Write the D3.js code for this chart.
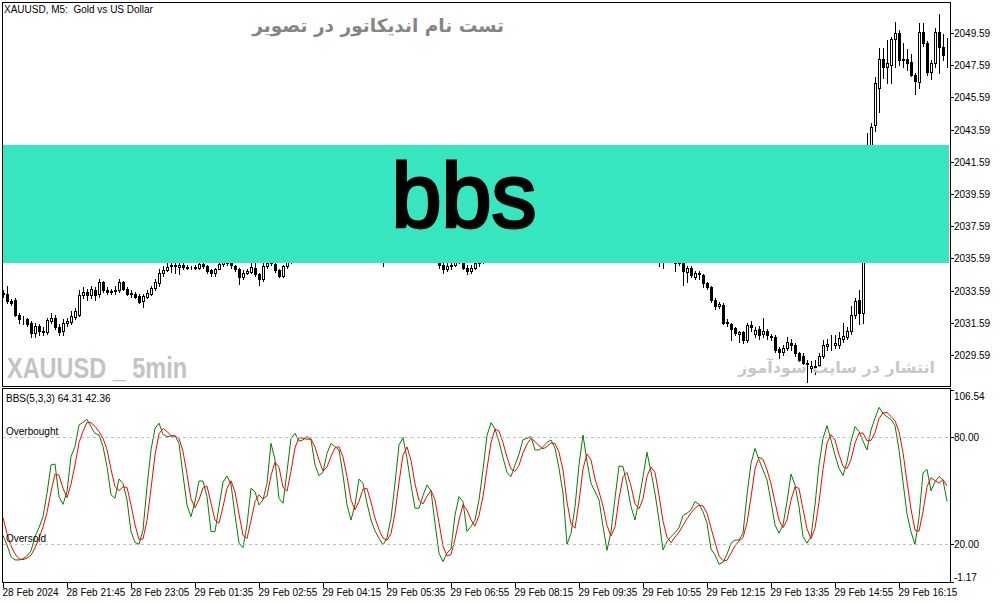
<!DOCTYPE html>
<html><head><meta charset="utf-8">
<script src="https://cdn.jsdelivr.net/npm/d3@7/dist/d3.min.js"></script>
<style>html,body{margin:0;padding:0;background:#fff;overflow:hidden}svg{display:block}</style>
</head><body><svg id="c" width="1003" height="603"></svg>
<script>
// ---------- DATA (XAUUSD M5) ----------
const opens=[2033.45,2033.35,2032.95,2033.0,2032.1,2031.85,2031.8,2031.55,2030.95,2031.4,
2031.05,2031.0,2031.7,2031.9,2031.35,2031.05,2031.6,2031.65,2031.95,2032.1,
2033.3,2033.5,2033.3,2033.6,2033.4,2034.1,2033.6,2033.5,2033.55,2033.6,
2034.1,2033.7,2033.45,2033.4,2033.25,2032.95,2033.2,2033.4,2033.75,2034.05,
2034.7,2034.85,2035.1,2035.2,2035.05,2035.2,2035.05,2035.0,2035.0,2035.0,
2035.25,2035.1,2034.85,2034.65,2034.95,2035.25,2035.35,2035.3,2035.1,2034.9,
2034.4,2034.7,2034.75,2035.0,2034.6,2034.3,2035.1,2035.3,2035.25,2034.85,
2034.5,2035.1,2035.4,2035.6,2035.9,2036.2,2036.4,2036.6,2036.5,2036.1,
2036.0,2036.3,2036.7,2036.9,2036.8,2036.7,2036.3,2035.9,2035.8,2036.0,
2036.3,2036.2,2035.9,2035.7,2035.7,2035.6,2035.7,2035.9,2036.1,2036.5,
2036.9,2037.0,2036.7,2036.3,2036.0,2036.0,2036.2,2036.3,2036.0,2035.5,
2035.2,2034.9,2035.1,2035.2,2035.6,2035.4,2035.0,2034.8,2035.0,2035.3,
2035.6,2036.1,2036.5,2036.8,2036.6,2036.4,2036.1,2036.0,2036.2,2036.4,
2036.6,2036.8,2036.9,2036.8,2036.6,2036.7,2036.8,2036.9,2036.9,2036.7,
2036.3,2036.0,2035.7,2035.9,2036.2,2036.6,2036.8,2036.4,2036.3,2036.2,
2036.0,2035.8,2035.7,2035.9,2036.2,2036.4,2036.2,2036.0,2035.8,2035.9,
2036.2,2036.5,2036.4,2036.1,2035.7,2035.5,2035.6,2035.8,2035.55,2035.3,
2035.4,2034.75,2035.0,2034.4,2034.7,2034.55,2034.05,2033.8,2033.0,2032.65,
2032.7,2031.6,2031.5,2031.25,2030.9,2031.0,2030.5,2031.45,2030.9,2031.2,
2030.9,2031.1,2030.75,2030.7,2029.95,2029.75,2030.0,2030.35,2030.2,2029.7,
2029.55,2029.1,2028.75,2028.9,2028.95,2029.5,2030.15,2030.2,2030.2,2030.2,
2030.55,2030.7,2031.1,2032.1,2033.0,2032.2,2038.5,2042.3,2043.9,2046.2,
2048.0,2047.5,2047.6,2049.2,2049.6,2047.9,2047.95,2047.8,2047.0,2046.55,
2049.65,2048.95,2047.15,2047.7,2049.65,2048.7,2048.2];
const highs=[2033.6,2033.85,2033.05,2033.1,2032.2,2032.0,2031.9,2031.7,2031.6,2031.5,
2031.3,2031.9,2032.2,2032.1,2031.5,2031.8,2031.9,2032.3,2032.5,2033.6,
2033.8,2033.7,2033.9,2033.8,2034.3,2034.2,2033.8,2033.7,2033.9,2034.3,
2034.2,2033.8,2033.6,2033.5,2033.4,2033.4,2033.6,2033.9,2034.3,2034.9,
2035.1,2035.3,2035.6,2035.5,2035.4,2035.4,2035.2,2035.1,2035.2,2035.5,
2035.4,2035.2,2034.9,2035.0,2035.45,2035.6,2035.6,2035.5,2035.2,2035.0,
2034.85,2034.95,2035.3,2035.4,2034.7,2035.4,2035.6,2035.8,2035.4,2034.95,
2035.2,2035.7,2035.9,2036.1,2036.4,2036.6,2036.8,2036.8,2036.6,2036.3,
2036.5,2036.9,2037.1,2037.0,2036.9,2036.8,2036.4,2036.0,2036.2,2036.5,
2036.4,2036.3,2036.0,2035.8,2035.8,2035.9,2036.0,2036.2,2036.6,2037.0,
2037.2,2037.1,2036.8,2036.4,2036.2,2036.4,2036.5,2036.4,2036.1,2035.7,
2035.4,2035.3,2035.4,2035.8,2035.9,2035.6,2035.2,2035.2,2035.5,2035.9,
2036.3,2036.7,2037.0,2036.9,2036.7,2036.5,2036.3,2036.4,2036.6,2036.8,
2037.0,2037.0,2037.1,2036.9,2036.8,2037.0,2037.1,2037.1,2037.0,2036.8,
2036.4,2036.1,2036.0,2036.3,2036.7,2036.9,2036.9,2036.5,2036.4,2036.3,
2036.1,2035.9,2036.0,2036.3,2036.5,2036.5,2036.3,2036.1,2036.0,2036.3,
2036.6,2036.7,2036.5,2036.2,2036.0,2035.9,2036.0,2035.9,2035.8,2035.6,
2035.5,2035.1,2035.1,2034.8,2034.8,2034.6,2034.1,2033.9,2033.1,2032.9,
2032.8,2031.8,2031.6,2031.3,2031.1,2031.1,2031.6,2031.7,2031.3,2031.4,
2031.9,2031.2,2030.9,2030.8,2030.1,2030.2,2030.7,2030.6,2030.3,2029.8,
2029.7,2029.3,2029.2,2029.3,2029.7,2030.5,2030.6,2030.8,2030.8,2031.0,
2031.6,2031.3,2032.6,2033.1,2033.6,2039.0,2043.4,2044.0,2046.85,2048.65,
2048.65,2049.15,2049.35,2050.25,2049.8,2048.95,2048.6,2048.3,2047.1,2050.2,
2050.2,2049.1,2047.9,2049.9,2050.75,2049.5,2049.3];
const lows=[2033.2,2032.8,2032.7,2032.0,2031.6,2031.5,2031.4,2030.7,2030.7,2030.8,
2030.8,2030.9,2031.6,2031.2,2030.8,2030.8,2031.4,2031.5,2031.8,2032.0,
2033.1,2033.0,2033.1,2033.0,2033.2,2033.5,2033.4,2033.4,2033.4,2033.5,
2033.6,2033.3,2033.2,2033.1,2032.8,2032.55,2033.1,2033.3,2033.6,2033.9,
2034.5,2034.8,2034.75,2034.7,2034.6,2034.95,2034.9,2034.9,2034.9,2034.9,
2035.0,2034.7,2034.5,2034.5,2034.9,2035.1,2035.15,2035.0,2034.8,2034.0,
2034.3,2034.6,2034.7,2034.5,2033.95,2034.2,2035.0,2035.2,2034.75,2034.4,
2034.4,2035.0,2035.3,2035.5,2035.8,2036.0,2036.3,2036.3,2036.0,2035.9,
2035.9,2036.2,2036.6,2036.6,2036.5,2036.2,2035.8,2035.6,2035.7,2035.9,
2036.0,2035.8,2035.6,2035.6,2035.4,2035.1,2035.6,2035.8,2036.0,2036.4,
2036.8,2036.6,2036.2,2035.9,2035.8,2035.9,2036.1,2035.9,2035.4,2035.0,
2034.7,2034.8,2034.9,2035.1,2035.3,2034.9,2034.6,2034.7,2034.9,2035.1,
2035.3,2035.9,2036.4,2036.5,2036.2,2036.0,2035.9,2035.9,2036.1,2036.3,
2036.5,2036.6,2036.6,2036.4,2036.5,2036.6,2036.7,2036.7,2036.6,2036.2,
2035.9,2035.6,2035.6,2035.8,2036.1,2036.5,2036.3,2036.1,2036.0,2035.9,
2035.7,2035.6,2035.6,2035.8,2036.1,2036.1,2035.9,2035.7,2035.7,2035.8,
2036.1,2036.3,2036.0,2035.6,2035.1,2035.0,2035.5,2035.4,2034.8,2035.2,
2033.95,2034.1,2034.4,2034.3,2034.3,2033.8,2033.7,2032.9,2032.45,2032.5,
2031.5,2031.4,2030.5,2030.8,2030.4,2030.3,2030.4,2031.1,2030.7,2030.6,
2030.7,2030.6,2030.5,2029.8,2029.4,2029.6,2029.9,2029.9,2029.5,2029.2,
2029.0,2027.9,2028.5,2028.4,2028.9,2029.4,2029.9,2029.9,2030.0,2030.0,
2030.4,2030.6,2030.9,2031.9,2031.5,2031.6,2038.2,2042.0,2043.5,2044.7,
2046.8,2046.5,2046.5,2047.5,2047.6,2047.45,2047.3,2046.9,2045.8,2046.2,
2048.8,2047.0,2046.7,2047.5,2047.1,2047.9,2047.45];
const closes=[2033.35,2032.95,2032.8,2032.1,2031.85,2031.8,2031.5,2030.95,2031.4,2031.05,
2031.0,2031.75,2031.9,2031.3,2031.0,2031.6,2031.7,2032.0,2032.3,2033.3,
2033.5,2033.3,2033.7,2033.3,2034.1,2033.6,2033.5,2033.55,2033.6,2034.1,
2033.7,2033.4,2033.4,2033.2,2032.9,2033.25,2033.45,2033.75,2034.1,2034.7,
2034.85,2035.05,2035.2,2035.1,2035.2,2035.05,2035.0,2035.0,2035.05,2035.25,
2035.1,2034.8,2034.65,2034.95,2035.25,2035.35,2035.3,2035.2,2034.9,2034.4,
2034.7,2034.8,2035.05,2034.6,2034.3,2035.1,2035.3,2035.35,2034.85,2034.5,
2035.1,2035.4,2035.6,2035.9,2036.2,2036.4,2036.6,2036.5,2036.1,2036.0,
2036.3,2036.7,2036.9,2036.8,2036.7,2036.3,2035.9,2035.8,2036.0,2036.3,
2036.2,2035.9,2035.7,2035.7,2035.6,2035.7,2035.9,2036.1,2036.5,2036.9,
2037.0,2036.7,2036.3,2036.0,2036.0,2036.2,2036.3,2036.0,2035.5,2035.2,
2034.9,2035.1,2035.2,2035.6,2035.4,2035.0,2034.8,2035.0,2035.3,2035.6,
2036.1,2036.5,2036.8,2036.6,2036.4,2036.1,2036.0,2036.2,2036.4,2036.6,
2036.8,2036.9,2036.8,2036.6,2036.7,2036.8,2036.9,2036.9,2036.7,2036.3,
2036.0,2035.7,2035.9,2036.2,2036.6,2036.8,2036.4,2036.3,2036.2,2036.0,
2035.8,2035.7,2035.9,2036.2,2036.4,2036.2,2036.0,2035.8,2035.9,2036.2,
2036.5,2036.4,2036.1,2035.7,2035.5,2035.6,2035.8,2035.55,2035.3,2035.45,
2034.8,2035.0,2034.55,2034.7,2034.6,2034.05,2033.8,2033.0,2032.6,2032.75,
2031.6,2031.65,2031.2,2030.95,2031.0,2030.5,2031.45,2031.3,2031.15,2030.8,
2031.1,2030.8,2030.7,2029.9,2029.75,2030.05,2030.4,2030.2,2029.7,2029.3,
2029.1,2029.05,2028.9,2028.85,2029.55,2030.2,2030.25,2030.2,2030.3,2030.65,
2030.75,2031.05,2032.05,2032.95,2032.2,2038.5,2042.3,2043.75,2046.5,2048.0,
2047.5,2047.7,2049.2,2049.6,2047.9,2047.95,2047.7,2047.0,2046.6,2049.65,
2048.95,2047.15,2047.7,2049.65,2048.7,2048.2,2048.25];

const bbsMain=[24.9,19.6,13,11.2,11.2,11.8,13.5,16.3,24.3,29.3,
35.5,48.6,64.5,65,46.7,42.4,49.5,69.2,74.8,86.9,
88.4,90.1,86,82.2,81.3,74.8,63.6,47.7,45.8,56.6,
54.2,44.9,27.1,21.1,20,28,52.3,72.9,85,87.9,
81.7,80.4,80.7,80.9,76.6,58.9,42.1,35.5,43.9,55.5,
55.5,46.7,27.1,27.1,41.1,54.8,58.3,53.6,36.4,20.6,
18.1,30.8,51.4,49.5,42.1,44.9,54.2,76.6,67.3,45.8,
43,60.7,79.4,82.2,77.9,78.5,80.4,78.5,64.5,58.5,
60.4,71,76.6,74.8,72.9,58.9,42.1,33.6,42.1,56.6,
54.2,43,33.6,27.5,23.4,19.6,23.7,34.6,54.2,75.7,
79.8,68.2,53.3,40.2,40.2,47.3,53.3,49.9,31.8,15,
10.3,15,17.4,36.4,46.7,43.9,27.1,30,33.6,44.9,
61.7,81,88.2,84.7,77.6,68.6,60.2,58,64.5,70.5,
78.7,79.4,80.4,72.9,72.9,74.6,77.2,78.5,73.8,62.6,
48.6,20,26,41,64.5,81.3,66.4,54.2,49.5,44.9,
30,16.6,27.1,45.8,63.9,63.6,53.3,41.1,33.6,44.9,
57.9,71.6,60.7,48.6,33.6,16.8,21.5,24.3,26.5,29.3,
36.1,37.4,39.3,43.9,42.4,38.3,31.8,17.4,14,8.8,
9.9,14.4,20.6,22.4,22.4,26.2,47.7,65.4,73.8,67.3,
61.7,56.1,43.9,30.8,26.2,30.8,43.9,59.4,53.3,41.1,
24.3,20.6,24.3,42.1,64.5,79.4,86.5,78.5,70.1,62.6,
58.5,66.4,77.6,86,83.2,77.9,72.9,84.1,90.7,96.8,
93.5,91.5,90,86.5,73,55,37,27,20,35,
60,62,50,55,58,56,44];
const bbsSignal=[35,26,19.2,14.6,11.8,11.4,12.2,13.9,18.0,23.3,
29.7,37.8,49.5,59.4,58.7,51.4,46.2,53.7,64.5,77.0,
83.4,88.5,88.2,86.1,83.2,79.4,73.2,62.0,52.4,50.0,
52.2,51.9,42.1,31.0,22.7,23.0,33.4,51.1,70.1,81.9,
84.9,83.3,80.9,80.7,79.4,72.1,59.2,45.5,40.5,45.0,
51.6,52.6,43.1,33.6,31.8,41.0,51.4,55.6,49.4,36.9,
25.0,23.2,33.4,43.9,47.7,45.5,47.1,58.6,66.0,63.2,
52.0,49.8,61.0,74.1,79.8,79.5,78.9,79.1,74.5,67.2,
61.1,63.3,69.3,74.1,74.8,68.9,58.0,44.9,39.3,44.1,
51.0,51.3,43.6,34.7,28.2,23.5,22.2,26.0,37.5,54.8,
69.9,74.6,67.1,53.9,44.6,42.6,46.9,50.2,45.0,32.2,
19.0,13.4,14.2,22.9,33.5,42.3,39.2,33.7,30.2,36.2,
46.7,62.5,77.0,84.6,83.5,77.0,68.8,62.3,60.9,64.3,
71.2,76.2,79.5,77.6,75.4,73.5,74.9,76.8,76.5,71.6,
61.7,43.7,31.5,29.0,43.8,62.3,70.7,67.3,56.7,49.5,
41.5,30.5,24.6,29.8,45.6,57.8,60.3,52.7,42.7,39.9,
45.5,58.1,63.4,60.3,47.6,33.0,24.0,20.9,24.1,26.7,
30.6,34.3,37.6,40.2,41.9,41.5,37.5,29.2,21.1,13.4,
10.9,11.0,15.0,19.1,21.8,23.7,32.1,46.4,62.3,68.8,
67.6,61.7,53.9,43.6,33.6,29.3,33.6,44.7,52.2,51.3,
39.6,28.7,23.1,29.0,43.6,62.0,76.8,81.5,78.4,70.4,
63.7,62.5,67.5,76.7,82.3,82.4,78.0,78.3,82.6,90.5,
93.7,93.9,91.7,89.3,83.2,71.5,55.0,39.7,28.0,27.3,
38.3,52.3,57.3,55.7,54.3,56.3,52.7];

const timeLabels=["28 Feb 2024","28 Feb 21:45","28 Feb 23:05","29 Feb 01:35","29 Feb 02:55","29 Feb 04:15",
"29 Feb 05:35","29 Feb 06:55","29 Feb 08:15","29 Feb 09:35","29 Feb 10:55","29 Feb 12:15",
"29 Feb 13:35","29 Feb 14:55","29 Feb 16:15"];
const timeLabelBars=[0,16,32,48,64,80,96,112,128,144,160,176,192,208,224];
const priceTicks=[2029.59,2031.59,2033.59,2035.59,2037.59,2039.59,2041.59,2043.59,2045.59,2047.59,2049.59];
const oscTicks=[106.54,80.00,20.00,-1.17];
const oscLevels=[80,20];

// ---------- DRAW ----------
const svg=d3.select("#c");
svg.append("rect").attr("width",1003).attr("height",603).attr("fill","#fff");
const N=closes.length;
const x=d3.scaleLinear().domain([0,N-1]).range([3,947]);
const yP=d3.scaleLinear().domain([2027.66,2051.45]).range([386,3]);
const yO=d3.scaleLinear().domain([-1.17,106.54]).range([582,390]);
const axisFont="'Liberation Sans',Arial,sans-serif";

const defs=svg.append("defs");
defs.append("clipPath").attr("id","cm").append("rect").attr("x",3).attr("y",3).attr("width",947).attr("height",383);
defs.append("clipPath").attr("id","co").append("rect").attr("x",3).attr("y",389).attr("width",947).attr("height",193);

// candles
const gC=svg.append("g").attr("clip-path","url(#cm)").attr("shape-rendering","crispEdges");
d3.range(N).forEach(i=>{
  const X=Math.round(x(i));
  const o=opens[i],c=closes[i];
  gC.append("line").attr("x1",X+0.5).attr("x2",X+0.5)
    .attr("y1",Math.round(yP(highs[i]))).attr("y2",Math.round(yP(lows[i]))+1)
    .attr("stroke","#000").attr("stroke-width",1);
  const top=Math.round(yP(Math.max(o,c))), bot=Math.round(yP(Math.min(o,c)));
  gC.append("rect").attr("x",X-0.5).attr("y",top+0.5).attr("width",2).attr("height",Math.max(0,bot-top))
    .attr("fill",c>=o?"#fff":"#000").attr("stroke","#000").attr("stroke-width",1);
});

// banner
svg.append("rect").attr("x",3).attr("y",145).attr("width",946).attr("height",118).attr("fill","#37E6BF");
svg.append("text").attr("x",464).attr("y",227).attr("text-anchor","middle")
  .attr("font-family","'Liberation Sans',Arial,sans-serif").attr("font-size",90)
  .attr("fill","#000").attr("stroke","#000").attr("stroke-width",3).text("bbs");

// watermark texts
svg.append("text").attr("x",504).attr("y",32).attr("text-anchor","end")
  .attr("font-family","'DejaVu Sans',sans-serif").attr("font-weight","bold").attr("font-size",18.5)
  .attr("fill","#858585").text("تست نام اندیکاتور در تصویر");
svg.append("text").attr("x",7).attr("y",378)
  .attr("font-family","'Liberation Sans Narrow','Liberation Sans',Arial,sans-serif").attr("font-weight","bold").attr("font-size",30)
  .attr("textLength",180).attr("lengthAdjust","spacingAndGlyphs")
  .attr("fill","#c3c3c3").text("XAUUSD _ 5min");
svg.append("text").attr("x",935).attr("y",373).attr("text-anchor","end")
  .attr("font-family","'DejaVu Sans',sans-serif").attr("font-weight","bold").attr("font-size",16)
  .attr("fill","#c8c8c8").text("انتشار در سایت سودآموز");

// header
svg.append("text").attr("x",4).attr("y",13).attr("font-family",axisFont).attr("font-size",10)
  .attr("fill","#000").style("white-space","pre").text("XAUUSD, M5:  Gold vs US Dollar");

// oscillator
const gO=svg.append("g").attr("clip-path","url(#co)");
oscLevels.forEach(v=>{
  svg.append("line").attr("x1",3).attr("x2",950).attr("y1",Math.round(yO(v))+0.5).attr("y2",Math.round(yO(v))+0.5)
    .attr("stroke","#c0c0c0").attr("stroke-dasharray","3,3").attr("stroke-width",1);
});
const line=d3.line().x((d,i)=>x(i)).y(d=>yO(d));
gO.append("path").datum(bbsMain).attr("d",line).attr("fill","none").attr("stroke","#008000").attr("stroke-width",1);
gO.append("path").datum(bbsSignal).attr("d",line).attr("fill","none").attr("stroke","#ff0000").attr("stroke-width",1);
svg.append("text").attr("x",6).attr("y",402).attr("font-family",axisFont).attr("font-size",10).text("BBS(5,3,3) 64.31 42.36");
svg.append("text").attr("x",6).attr("y",435).attr("font-family",axisFont).attr("font-size",10).text("Overbought");
svg.append("text").attr("x",6).attr("y",542).attr("font-family",axisFont).attr("font-size",10).text("Oversold");

// frames
const fr=svg.append("g").attr("fill","none").attr("stroke","#000").attr("stroke-width",1).attr("shape-rendering","crispEdges");
fr.append("rect").attr("x",2.5).attr("y",2.5).attr("width",948).attr("height",384);
fr.append("rect").attr("x",2.5).attr("y",388.5).attr("width",948).attr("height",194);

// price axis
const gP=svg.append("g").attr("font-family",axisFont).attr("font-size",10).attr("shape-rendering","crispEdges");
priceTicks.forEach(v=>{
  const Y=Math.round(yP(v))+0.5;
  gP.append("line").attr("x1",950).attr("x2",954).attr("y1",Y).attr("y2",Y).attr("stroke","#000");
  gP.append("text").attr("x",954).attr("y",Y+3.5).text(v.toFixed(2));
});
oscTicks.forEach((v,k)=>{
  const Y=Math.round(yO(v))+0.5;
  gP.append("line").attr("x1",950).attr("x2",954).attr("y1",Y).attr("y2",Y).attr("stroke","#000");
  const off=k===0?9:(k===oscTicks.length-1?-1.5:3.5);
  gP.append("text").attr("x",954).attr("y",Y+off).text(v.toFixed(2));
});

// time axis
const gT=svg.append("g").attr("font-family",axisFont).attr("font-size",10).attr("shape-rendering","crispEdges");
timeLabelBars.forEach((b,k)=>{
  const X=Math.round(x(b))+0.5;
  gT.append("line").attr("x1",X).attr("x2",X).attr("y1",583).attr("y2",588).attr("stroke","#000");
  gT.append("text").attr("x",X-1).attr("y",596).text(timeLabels[k]);
});
</script></body></html>
